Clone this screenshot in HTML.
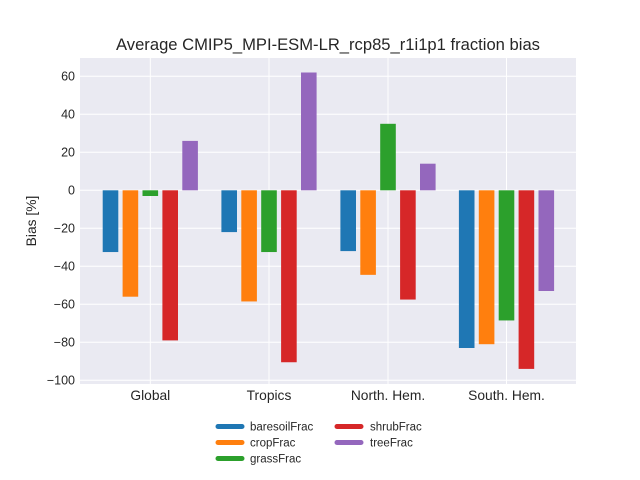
<!DOCTYPE html>
<html><head><meta charset="utf-8"><style>body{margin:0;background:#fff}svg{display:block}</style></head><body>
<svg width="640" height="480" xmlns="http://www.w3.org/2000/svg" font-family="Liberation Sans, DejaVu Sans, sans-serif">
<rect x="0" y="0" width="640" height="480" fill="#fff"/>
<rect x="80" y="58" width="496" height="326" fill="#eaeaf2"/>
<g stroke="#fff" stroke-width="1">
<line x1="80" x2="576" y1="76.3" y2="76.3"/><line x1="80" x2="576" y1="114.3" y2="114.3"/><line x1="80" x2="576" y1="152.3" y2="152.3"/><line x1="80" x2="576" y1="190.3" y2="190.3"/><line x1="80" x2="576" y1="228.3" y2="228.3"/><line x1="80" x2="576" y1="266.3" y2="266.3"/><line x1="80" x2="576" y1="304.3" y2="304.3"/><line x1="80" x2="576" y1="342.3" y2="342.3"/><line x1="80" x2="576" y1="380.3" y2="380.3"/>
<line x1="150.3" x2="150.3" y1="58" y2="384"/><line x1="269" x2="269" y1="58" y2="384"/><line x1="388" x2="388" y1="58" y2="384"/><line x1="506.5" x2="506.5" y1="58" y2="384"/>
</g>
<g id="bars"></g>
<g font-size="12.5" fill="#262626" text-anchor="end">
<text x="75" y="80.5">60</text><text x="75" y="118.5">40</text><text x="75" y="156.5">20</text><text x="75" y="194.5">0</text><text x="75" y="232.5">−20</text><text x="75" y="270.5">−40</text><text x="75" y="308.5">−60</text><text x="75" y="346.5">−80</text><text x="75" y="384.5">−100</text>
</g>
<g font-size="13.8" fill="#262626" text-anchor="middle">
<text x="150.3" y="400">Global</text><text x="269" y="400">Tropics</text><text x="388" y="400">North. Hem.</text><text x="506.5" y="400">South. Hem.</text>
</g>
<text x="36" y="221" font-size="13.8" fill="#262626" text-anchor="middle" transform="rotate(-90 36 221)">Bias [%]</text>
<text x="328" y="50" font-size="16.6" fill="#262626" text-anchor="middle">Average CMIP5_MPI-ESM-LR_rcp85_r1i1p1 fraction bias</text>
<g stroke-width="5" stroke-linecap="round">
<line x1="218" x2="242" y1="426.5" y2="426.5" stroke="#1f77b4"/><line x1="218" x2="242" y1="442.5" y2="442.5" stroke="#ff7f0e"/><line x1="218" x2="242" y1="458.5" y2="458.5" stroke="#2ca02c"/>
<line x1="337" x2="361" y1="426.5" y2="426.5" stroke="#d62728"/><line x1="337" x2="361" y1="442.5" y2="442.5" stroke="#9467bd"/>
</g>
<g font-size="11.5" fill="#262626">
<text x="250" y="430.5">baresoilFrac</text><text x="250" y="446.5">cropFrac</text><text x="250" y="462.5">grassFrac</text>
<text x="370" y="430.5">shrubFrac</text><text x="370" y="446.5">treeFrac</text>
</g>
</svg>
<script>
var c=["#1f77b4","#ff7f0e","#2ca02c","#d62728","#9467bd"];
var cx=[150.3,269,388,506.5];
var v=[[-32.5,-56,-3,-79,26],[-22,-58.5,-32.5,-90.5,62],[-32,-44.5,35,-57.5,14],[-83,-81,-68.5,-94,-53]];
var g=document.getElementById("bars"),s="";
for(var i=0;i<4;i++)for(var j=0;j<5;j++){var x=cx[i]+(j-2)*19.9-7.8,val=v[i][j],y0=190.3,y1=190.3-val*1.9;
s+='<rect x="'+x+'" y="'+Math.min(y0,y1)+'" width="15.6" height="'+Math.abs(y1-y0)+'" fill="'+c[j]+'"/>';}
g.innerHTML=s;
</script>
</body></html>
